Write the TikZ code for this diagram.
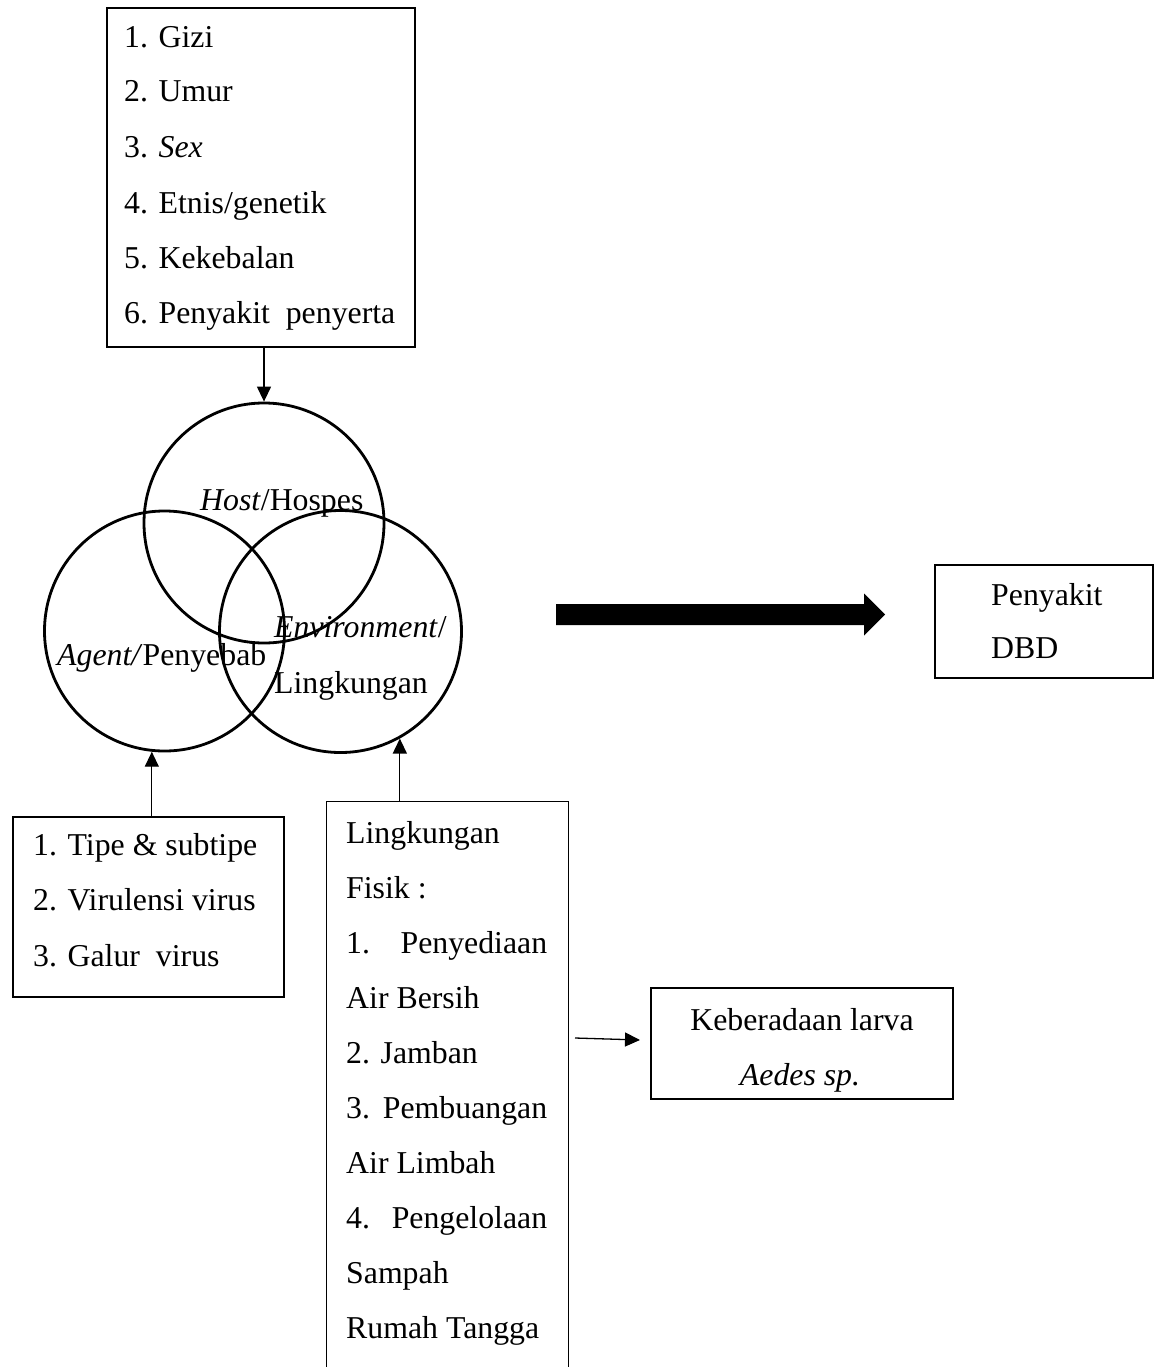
\documentclass[tikz,border=0pt]{standalone}
\usepackage{fontspec}
\setmainfont{Liberation Serif}
\usetikzlibrary{arrows.meta,calc}
\begin{document}
\begin{tikzpicture}[x=1pt,y=-1pt,
  every node/.style={font=\fontsize{31.8pt}{38pt}\selectfont},
  boxnode/.style={draw, line width=1.3pt, minimum width=#1, inner sep=0pt},
  txt/.style={anchor=base west, inner sep=0pt},
  ctxt/.style={anchor=base, inner sep=0pt},
  venn/.style={circle, draw, line width=2.8pt, minimum size=#1, inner sep=0pt},
  arr/.style={line width=1.3pt, -{Triangle[length=15pt,width=14pt]}}]
\useasboundingbox (0,0) rectangle (1155,1367);

% boxes
\node[boxnode=308pt, minimum height=339pt] (topbox) at (261,177.5) {};
\node[boxnode=271pt, minimum height=180pt] (agentbox) at (148.5,907) {};
\node[minimum width=241pt, minimum height=565pt, inner sep=0pt] (envbox) at (447.5,1084.5) {};
\draw[line width=1.3pt] (envbox.south west) -- (envbox.north west) -- (envbox.north east) -- (envbox.south east);
\node[boxnode=302pt, minimum height=111pt] (larvabox) at (802,1043.5) {};
\node[boxnode=218pt, minimum height=113pt] (dbdbox) at (1044,621.5) {};

% circles
\node[venn=240pt] (host) at (264,523) {};
\node[venn=240pt] (agent) at (164.5,631) {};
\node[venn=242pt] (env) at (340.5,631.5) {};

% top box text
\node[txt] (t1) at (124,48) {1. Gizi};
\node[txt] (t2) at (124,102) {2. Umur};
\node[txt] (t3) at (124,158) {3. \textit{Sex}};
\node[txt] (t4) at (124,213) {4. Etnis/genetik};
\node[txt] (t5) at (124,268) {5. Kekebalan};
\node[txt] (t6) at (124,323) {6. Penyakit\ \ penyerta};

% circle texts
\node[txt] (hostlbl) at (200,510) {\textit{Host}/Hospes};
\node[txt] (agentlbl) at (57,665) {\textit{Agent/}Penyebab};
\node[txt] (envlbl1) at (274,637) {\textit{Environment}/};
\node[txt] (envlbl2) at (274,693) {Lingkungan};

% agent box text
\node[txt] (a1) at (33,855) {1. Tipe \& subtipe};
\node[txt] (a2) at (33,910) {2. Virulensi virus};
\node[txt] (a3) at (33,966) {3. Galur\ \ virus};

% environment box text
\node[txt] (e1) at (346,843) {Lingkungan};
\node[txt] (e2) at (346,898) {Fisik :};
\node[txt] (e3) at (346,953) {\hbox to 201pt{1.\hfill Penyediaan}};
\node[txt] (e4) at (346,1008) {Air Bersih};
\node[txt] (e5) at (346,1063) {2. Jamban};
\node[txt] (e6) at (346,1118) {\hbox to 201pt{3.\hfill Pembuangan}};
\node[txt] (e7) at (346,1173) {Air Limbah};
\node[txt] (e8) at (346,1228) {\hbox to 201pt{4.\hfill Pengelolaan}};
\node[txt] (e9) at (346,1283) {Sampah};
\node[txt] (e10) at (346,1338) {Rumah Tangga};

% larva box text
\node[ctxt] (l1) at (802,1030) {Keberadaan larva};
\node[ctxt] (l2) at (800,1085) {\textit{Aedes sp.}};

% DBD box text
\node[txt] (d1) at (991,605) {Penyakit};
\node[txt] (d2) at (991,658) {DBD};

% connectors
\draw[arr] (host.north |- topbox.south) -- (host.north);
\draw[arr] (agentbox.north -| agent.264) -- (agent.264);
\draw[arr] (envbox.north -| env.299) -- (env.299);
\coordinate (sa) at (575,1038);
\coordinate (sb) at (640,1040);
\draw[arr] (sa) -- (sb);

% big arrow
\coordinate (bigA) at (556,614.5);
\coordinate (bigB) at (885,614.5);
\fill ($(bigA)+(0,-10.5)$) -- ($(bigB)+(-21,-10.5)$) -- ($(bigB)+(-21,-21)$) -- (bigB)
  -- ($(bigB)+(-21,21)$) -- ($(bigB)+(-21,10.5)$) -- ($(bigA)+(0,10.5)$) -- cycle;
\end{tikzpicture}
\end{document}
